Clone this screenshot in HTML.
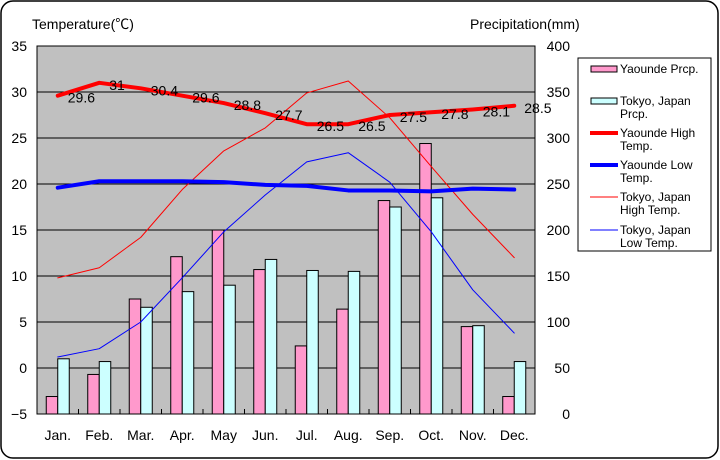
<!DOCTYPE html>
<html><head><meta charset="utf-8"><style>
body{margin:0;background:#fff;}
svg{display:block;font-family:"Liberation Sans","Noto Sans CJK JP",sans-serif;}
</style></head><body>
<svg id="chart" width="720" height="460" viewBox="0 0 720 460" xmlns="http://www.w3.org/2000/svg">
<rect x="1" y="1" width="717" height="457" rx="12" fill="#fff" stroke="#000" stroke-width="1.5"/>
<text x="32" y="29" font-size="14">Temperature(℃)</text>
<text x="470" y="29" font-size="14">Precipitation(mm)</text>
<rect x="37" y="46" width="498" height="368" fill="#c0c0c0" stroke="#000"/>
<g id="grid"></g><g id="bars"></g><g id="lines"></g><g id="labels"></g><g id="axes"></g>
<g>
<rect x="578" y="58" width="133" height="193" fill="#fff" stroke="#000"/>
<g font-size="12">
<rect x="591" y="66" width="26" height="6" fill="#ff99cc" stroke="#000"/>
<text x="620" y="73">Yaounde Prcp.</text>
<rect x="591" y="98" width="26" height="6" fill="#ccffff" stroke="#000"/>
<text x="620" y="105">Tokyo, Japan</text><text x="620" y="118">Prcp.</text>
<line x1="590" y1="133" x2="618" y2="133" stroke="#f00" stroke-width="4"/>
<text x="620" y="137">Yaounde High</text><text x="620" y="150">Temp.</text>
<line x1="590" y1="165" x2="618" y2="165" stroke="#00f" stroke-width="4"/>
<text x="620" y="169">Yaounde Low</text><text x="620" y="182">Temp.</text>
<line x1="590" y1="197" x2="618" y2="197" stroke="#f00" stroke-width="1"/>
<text x="620" y="201">Tokyo, Japan</text><text x="620" y="214">High Temp.</text>
<line x1="590" y1="230" x2="618" y2="230" stroke="#00f" stroke-width="1"/>
<text x="620" y="234">Tokyo, Japan</text><text x="620" y="247">Low Temp.</text>
</g></g>
</svg>
<script>
const months=["Jan.","Feb.","Mar.","Apr.","May","Jun.","Jul.","Aug.","Sep.","Oct.","Nov.","Dec."];
const tempTicks=[-5,0,5,10,15,20,25,30,35];
const precTicks=[0,50,100,150,200,250,300,350,400];
const yaoundePrcp=[19,43,125,171,200,157,74,114,232,294,95,19];
const tokyoPrcp=[60,57,116,133,140,168,156,155,225,235,96,57];
const yaoundeHigh=[29.6,31,30.4,29.6,28.8,27.7,26.5,26.5,27.5,27.8,28.1,28.5];
const yaoundeLow=[19.6,20.3,20.3,20.3,20.2,19.9,19.8,19.3,19.3,19.2,19.5,19.4];
const tokyoHigh=[9.8,10.9,14.2,19.4,23.6,26.1,29.9,31.2,27.2,21.9,16.7,12.0];
const tokyoLow=[1.2,2.1,5.0,9.8,14.8,18.8,22.4,23.4,20.2,14.8,8.5,3.8];
const NS="http://www.w3.org/2000/svg";
const L=37,R=535,T=46,B=414,step=(R-L)/12;
const xC=i=>L+step*(i+0.5);
const yT=v=>B-(v+5)/40*(B-T);
const yP=v=>B-v/400*(B-T);
function mk(p,tag,at){const e=document.createElementNS(NS,tag);for(const k in at)e.setAttribute(k,at[k]);document.getElementById(p).appendChild(e);return e;}
tempTicks.forEach((t,i)=>{
 if(t>-5&&t<35){const g=mk("grid","line",{x1:L,x2:R,y1:yT(t),y2:yT(t),stroke:"#000"});
 
 }
 const e=mk("axes","text",{x:27,y:yT(t)+5,"font-size":14,"text-anchor":"end"});e.textContent=t<0?"−"+(-t):t;
 
 
});
precTicks.forEach(p=>{
 const e=mk("axes","text",{x:570,y:yP(p)+5,"font-size":14,"text-anchor":"end"});e.textContent=p;
 
 
});
months.forEach((m,i)=>{
 const e=mk("axes","text",{x:xC(i),y:440,"font-size":14,"text-anchor":"middle"});e.textContent=m;
 
 
 if(i>0){const t=mk("axes","line",{x1:L+step*i,x2:L+step*i,y1:B,y2:B-5,stroke:"#000"});
 
 }
 const bw=11.5;
 const b1=mk("bars","rect",{x:xC(i)-bw,y:yP(yaoundePrcp[i]),width:bw,height:B-yP(yaoundePrcp[i]),fill:"#ff99cc",stroke:"#000"});
 
 
 const b2=mk("bars","rect",{x:xC(i),y:yP(tokyoPrcp[i]),width:bw,height:B-yP(tokyoPrcp[i]),fill:"#ccffff",stroke:"#000"});
 
 
});
function line(arr,col,w,name){
 const e=mk("lines","polyline",{points:arr.map((v,i)=>xC(i)+","+yT(v)).join(" "),fill:"none",stroke:col,"stroke-width":w,"stroke-linejoin":"round","stroke-linecap":"round"});
 
 
}
line(tokyoHigh,"#f00",1,"line-tokyo-high");
line(tokyoLow,"#00f",1,"line-tokyo-low");
line(yaoundeHigh,"#f00",4,"line-yaounde-high");
line(yaoundeLow,"#00f",4,"line-yaounde-low");
yaoundeHigh.forEach((v,i)=>{
 const e=mk("labels","text",{x:xC(i)+10,y:yT(v)+7,"font-size":14});e.textContent=v;
 
 
});
</script>
</body></html>
